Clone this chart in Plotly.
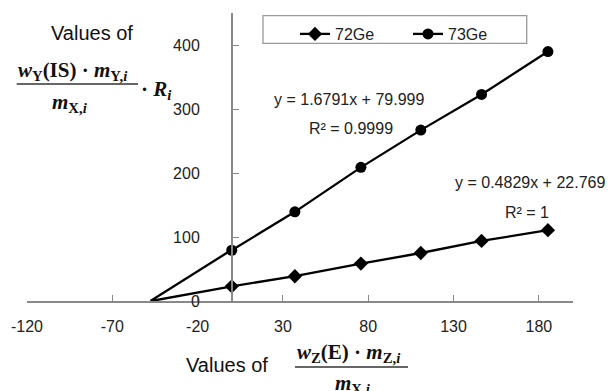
import plotly.graph_objects as go

# ---- data ----
x_vals = [0, 37.0, 75.7, 110.8, 146.4, 185.3]
y_72ge = [23.0, 38.7, 58.5, 75.0, 93.9, 110.6]
y_73ge = [79.3, 139.3, 208.8, 267.0, 322.7, 389.7]
series_names = ["72Ge", "73Ge"]
fit_72ge = [0.4829, 22.769]   # slope, intercept (as printed)
fit_73ge = [1.6791, 79.999]
r2_72ge = "1"
r2_73ge = "0.9999"
x_tick_vals = [-120, -70, -20, 30, 80, 130, 180]
x_tick_text = ["-120", "-70", "-20", "30", "80", "130", "180"]

W, H = 613, 391
L, R, T, B = 27, 573, 13, 301


def px(x):
    return (x - L) / (R - L)


def py(y):
    return (B - y) / (B - T)


FONT = "Liberation Sans, Arial, sans-serif"
SERIF = "Liberation Serif, Times New Roman, serif"

fig = go.Figure()


def back_trend(fit):
    # backward forecast of the trendline, from y = 0 to the first point
    a, b = fit
    x0 = -b / a
    x1 = min(x_vals)
    return [x0, x1], [a * x0 + b, a * x1 + b]


for fit in (fit_72ge, fit_73ge):
    tx, ty = back_trend(fit)
    fig.add_trace(go.Scatter(x=tx, y=ty, mode="lines", showlegend=False,
                             line=dict(color="black", width=2.3), hoverinfo="skip"))

fig.add_trace(go.Scatter(x=x_vals, y=y_72ge, name=series_names[0], mode="lines+markers",
                         line=dict(color="black", width=2.3),
                         marker=dict(symbol="diamond", size=11, color="black")))
fig.add_trace(go.Scatter(x=x_vals, y=y_73ge, name=series_names[1], mode="lines+markers",
                         line=dict(color="black", width=2.3),
                         marker=dict(symbol="circle", size=11, color="black")))

ann = []
eqfont = dict(size=16, family=FONT, color="#222")
ann.append(dict(x=69.0, y=315, xref="x", yref="y", showarrow=False,
                text=f"y = {fit_73ge[0]}x + {fit_73ge[1]}", font=eqfont))
ann.append(dict(x=69.8, y=270, xref="x", yref="y", showarrow=False,
                text=f"R² = {r2_73ge}", font=eqfont))
ann.append(dict(x=174.6, y=185, xref="x", yref="y", showarrow=False,
                text=f"y = {fit_72ge[0]}x + {fit_72ge[1]}", font=eqfont))
ann.append(dict(x=172.9, y=137.7, xref="x", yref="y", showarrow=False,
                text=f"R² = {r2_72ge}", font=eqfont))

titlefont = dict(size=20, family=FONT, color="#111")
mathfont = dict(size=21, family=SERIF, color="#111")


def pann(xpix, ypix, text, font, xanchor="center"):
    return dict(x=px(xpix), y=py(ypix), xref="paper", yref="paper", showarrow=False,
                xanchor=xanchor, yanchor="middle", text=text, font=font)


# y axis title
ann.append(pann(92, 33, "Values of", titlefont))
ann.append(pann(16, 71, "<b><i>w</i><sub>Y</sub>(IS) · <i>m</i><sub>Y,<i>i</i></sub></b>",
                mathfont, "left"))
ann.append(pann(50, 103, "<b><i>m</i><sub>X,<i>i</i></sub></b>", mathfont, "left"))
ann.append(pann(139, 90, "<b>· <i>R</i><sub><i>i</i></sub></b>", mathfont, "left"))

# x axis title
ann.append(pann(227, 365, "Values of", titlefont))
ann.append(pann(295, 353, "<b><i>w</i><sub>Z</sub>(E) · <i>m</i><sub>Z,<i>i</i></sub></b>",
                mathfont, "left"))
ann.append(pann(333, 384, "<b><i>m</i><sub>X,<i>i</i></sub></b>", mathfont, "left"))

shapes = [
    dict(type="line", xref="paper", yref="paper", x0=px(16.7), x1=px(138),
         y0=py(84), y1=py(84), line=dict(color="#333", width=1.5)),
    dict(type="line", xref="paper", yref="paper", x0=px(295), x1=px(408),
         y0=py(367), y1=py(367), line=dict(color="#333", width=1.5)),
    dict(type="rect", xref="paper", yref="paper", x0=px(263), x1=px(526.7),
         y0=py(15.7), y1=py(43.3), line=dict(color="#999", width=1.3)),
]

fig.update_layout(
    width=W, height=H,
    margin=dict(l=L, r=W - R, t=T, b=H - B, pad=0, autoexpand=False),
    paper_bgcolor="white", plot_bgcolor="white",
    font=dict(family=FONT, size=16, color="#222"),
    showlegend=True,
    legend=dict(orientation="h", x=px(295), y=py(17), xanchor="left", yanchor="top",
                bgcolor="rgba(0,0,0,0)", borderwidth=0,
                font=dict(size=16, family=FONT, color="#222"),
                entrywidth=68, entrywidthmode="pixels"),
    annotations=ann, shapes=shapes,
    xaxis=dict(range=[-120, 200], tickvals=x_tick_vals, ticktext=x_tick_text,
               showgrid=False, zeroline=False, automargin=False,
               showline=True, linecolor="#888", linewidth=1.5,
               ticks="inside", ticklen=6, tickcolor="#888", tickwidth=1.2,
               ticklabelstandoff=10, tickfont=dict(size=16, family=FONT, color="#222")),
    yaxis=dict(range=[0, 450], tick0=0, dtick=100, showgrid=False, zeroline=False,
               automargin=False,
               anchor="free", position=0.375, side="left",
               showline=True, linecolor="#888", linewidth=1.5,
               ticks="inside", ticklen=6, tickcolor="#888", tickwidth=1.2,
               ticklabelstandoff=28, tickfont=dict(size=16, family=FONT, color="#222")),
)

fig.write_html("out.html", config={"displayModeBar": False},
               post_script="document.body.style.margin='0';")
